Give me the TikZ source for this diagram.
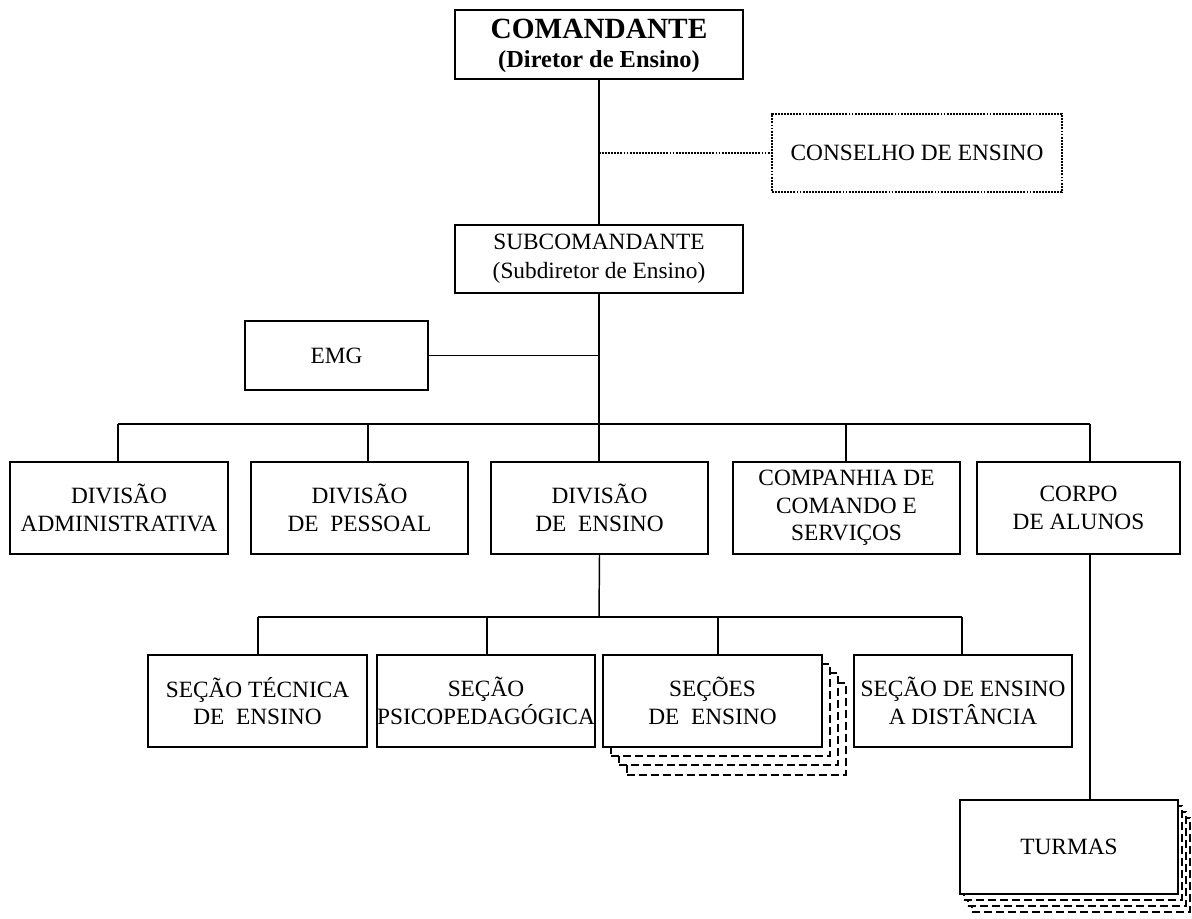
\documentclass[tikz,border=0pt]{standalone}
\usepackage{fontspec}
\setmainfont{Liberation Serif}
\newcommand\bx[7][]{\node[box,#1,minimum width={(#5-#3)*0.75pt},minimum height={(#6-#4)*0.75pt}] (#2) at ({(#3+#5)/2},{(#4+#6)/2}) {#7};}
\begin{document}
\begin{tikzpicture}[x=0.75pt,y=-0.75pt,
  box/.style={draw,line width=1.2pt,fill=white,align=center,inner sep=0pt,font=\fontsize{17.5}{20.5}\selectfont},
  shadowbox/.style={line width=1.9pt,dash pattern=on 6pt off 3pt},
  dotbox/.style={line width=1.7pt,dash pattern=on 1.4pt off 0.9pt},
  conn/.style={line width=1.1pt}]
\useasboundingbox (0,0) rectangle (1192,919);
% top
\bx{cmd}{455}{10}{743}{79}{}
\node[align=center,inner sep=0pt,font=\fontsize{18.3}{22}\selectfont\bfseries] (cmdt) at (599,46) {{\fontsize{22}{22}\selectfont COMANDANTE}\\(Diretor de Ensino)};
\bx[dotbox]{cons}{772}{114}{1062}{192}{CONSELHO DE ENSINO}
\bx{sub}{455}{225}{743}{293}{SUBCOMANDANTE\\[1.5pt](Subdiretor de Ensino)}
\bx{emg}{245}{321}{428}{390}{EMG}
% row 2
\bx{adm}{10}{462}{228}{554}{DIVIS\~AO\\ADMINISTRATIVA}
\bx{pes}{251}{462}{468}{554}{DIVIS\~AO\\DE\ \ PESSOAL}
\bx{ens}{491}{462}{708}{554}{DIVIS\~AO\\DE\ \ ENSINO}
\bx{cia}{733}{462}{960}{554}{COMPANHIA DE\\COMANDO E\\SERVI\c{C}OS}
\bx{cpo}{977}{462}{1180}{554}{CORPO\\DE ALUNOS}
% row 3
\bx{tec}{148}{655}{367}{747}{SE\c{C}\~AO T\'ECNICA\\DE\ \ ENSINO}
\bx{psi}{377}{655}{595}{747}{SE\c{C}\~AO\\PSICOPEDAG\'OGICA}
\bx[shadowbox]{secS3}{627}{683}{846}{775}{}
\bx[shadowbox]{secS2}{619}{673}{838}{765}{}
\bx[shadowbox]{secS1}{611}{664}{830}{756}{}
\bx{sec}{603}{655}{822}{747}{SE\c{C}\~OES\\DE\ \ ENSINO}
\bx{ead}{854}{655}{1072}{747}{SE\c{C}\~AO DE ENSINO\\A DIST\^ANCIA}
% turmas
\bx[shadowbox]{turS3}{972}{818}{1190}{912}{}
\bx[shadowbox]{turS2}{968}{812}{1186}{906}{}
\bx[shadowbox]{turS1}{964}{806}{1182}{900}{}
\bx{tur}{960}{800}{1178}{894}{TURMAS}
% connectors
\coordinate (jc) at (599,153);
\coordinate (b0) at (599,424);
\coordinate (d1) at (118,424);
\coordinate (d2) at (368,424);
\coordinate (d3) at (599,424);
\coordinate (d4) at (846,424);
\coordinate (d5) at (1090,424);
\coordinate (c0) at (599,617);
\coordinate (e1) at (258,617);
\coordinate (e2) at (487,617);
\coordinate (e3) at (718,617);
\coordinate (e4) at (962,617);
\draw[conn] (cmd.south) -- (sub.north);
\draw[dotbox] (jc) -- (cons.west);
\draw[conn] (sub.south) -- (b0);
\draw[conn] (emg.east) -- (emg.east -| sub.south);
\draw[conn] (d1) -- (d5);
\draw[conn] (d1) -- (d1 |- adm.north);
\draw[conn] (d2) -- (d2 |- pes.north);
\draw[conn] (d3) -- (d3 |- ens.north);
\draw[conn] (d4) -- (d4 |- cia.north);
\draw[conn] (d5) -- (d5 |- cpo.north);
\draw[conn] (ens.south) -- (c0);
\draw[conn] (e1) -- (e4);
\draw[conn] (e1) -- (e1 |- tec.north);
\draw[conn] (e2) -- (e2 |- psi.north);
\draw[conn] (e3) -- (e3 |- sec.north);
\draw[conn] (e4) -- (e4 |- ead.north);
\draw[conn] (d5 |- cpo.south) -- (d5 |- tur.north);
\end{tikzpicture}
\end{document}
